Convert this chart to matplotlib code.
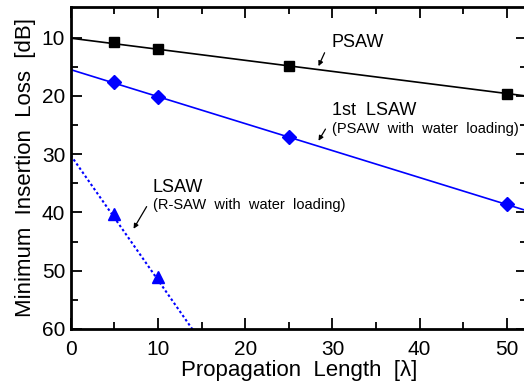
import matplotlib
matplotlib.use("Agg")
import matplotlib.pyplot as plt
import numpy as np

plt.rcParams['font.family'] = ['Liberation Sans', 'DejaVu Sans']

# measured points
psaw_x = [5, 10, 25, 50]
psaw_y = [10.7, 12.0, 14.8, 19.6]
lsaw1_x = [5, 10, 25, 50]
lsaw1_y = [17.6, 20.2, 27.0, 38.6]
lsaw_x = [5, 10]
lsaw_y = [40.2, 51.1]

# fitted lines (intercept, slope)
psaw_fit = (10.1, 0.19)
lsaw1_fit = (15.5, 0.463)
lsaw_fit = (30.2, 2.14)

fig = plt.figure(figsize=(5.24, 3.83), dpi=100)
ax = fig.add_axes([0.135, 0.141, 1.0057 - 0.135, 0.9825 - 0.141])

xx = np.array([0, 52.3])
ax.plot(xx, psaw_fit[0] + psaw_fit[1] * xx, color='black', lw=1.2)
ax.plot(xx, lsaw1_fit[0] + lsaw1_fit[1] * xx, color='blue', lw=1.2)
ax.plot(xx, lsaw_fit[0] + lsaw_fit[1] * xx, color='blue', lw=1.5, ls=(0, (1.2, 1.2)))

ax.plot(psaw_x, psaw_y, 's', color='black', ms=7)
ax.plot(lsaw1_x, lsaw1_y, 'D', color='blue', ms=7)
ax.plot(lsaw_x, lsaw_y, '^', color='blue', ms=8.5)

arrow = dict(arrowstyle='-|>', color='black', lw=0.9, mutation_scale=7, shrinkA=0, shrinkB=0)
ax.annotate('', xy=(28.4, 14.9), xytext=(29.1, 12.6), arrowprops=arrow)
ax.text(29.9, 10.9, 'PSAW', fontsize=13, va='center', ha='left')
ax.annotate('', xy=(28.4, 27.7), xytext=(29.2, 25.7), arrowprops=arrow)
ax.text(29.9, 22.5, '1st  LSAW', fontsize=13, va='center', ha='left')
ax.text(29.9, 25.6, '(PSAW  with  water  loading)', fontsize=10.5, va='center', ha='left')
ax.annotate('', xy=(7.2, 42.8), xytext=(8.7, 39.0), arrowprops=arrow)
ax.text(9.4, 35.8, 'LSAW', fontsize=13, va='center', ha='left')
ax.text(9.4, 38.8, '(R-SAW  with  water  loading)', fontsize=10.5, va='center', ha='left')

ax.set_xlim(0, 52.3)
ax.set_ylim(60, 4.7)
ax.set_xticks([0, 10, 20, 30, 40, 50])
ax.set_xticks(np.arange(5, 52, 10), minor=True)
ax.set_yticks([10, 20, 30, 40, 50, 60])
ax.set_yticks([15, 25, 35, 45, 55], minor=True)
ax.tick_params(which='both', direction='in', top=True, right=True, width=1.3, labelsize=15, pad=4)
ax.tick_params(axis='x', which='both', pad=8)
ax.tick_params(which='major', length=8)
ax.tick_params(which='minor', length=5)
for s in ax.spines.values():
    s.set_linewidth(2)

ax.set_xlabel('Propagation  Length  [λ]', fontsize=16, labelpad=1)
ax.set_ylabel('Minimum  Insertion  Loss  [dB]', fontsize=16, labelpad=4)

fig.savefig('out.png', dpi=100)
